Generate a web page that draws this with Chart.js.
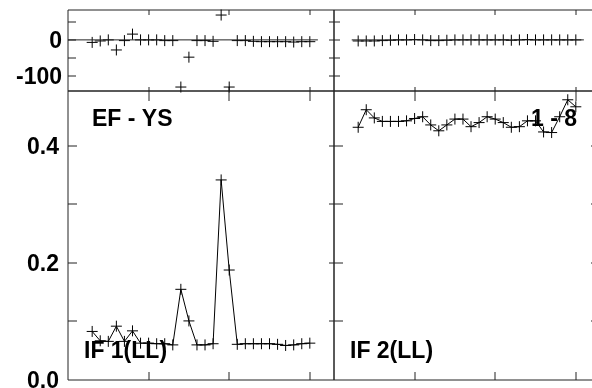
<!DOCTYPE html>
<html>
<head>
<meta charset="utf-8">
<script src="https://cdn.jsdelivr.net/npm/chart.js@4.4.1/dist/chart.umd.min.js"></script>
<style>
  html, body { margin: 0; padding: 0; background: #fff; overflow: hidden; }
  #wrap { position: relative; width: 592px; height: 388px; overflow: hidden; background: #fff; }
  #wrap canvas { position: absolute; }
</style>
</head>
<body>
<div id="wrap">
  <canvas id="resid1"></canvas>
  <canvas id="resid2"></canvas>
  <canvas id="amp1"></canvas>
  <canvas id="amp2"></canvas>
</div>
<script>
// ---------------------------------------------------------------------------
// Data
// ---------------------------------------------------------------------------

var RUNS = [3, 4, 5, 6, 7, 8, 9, 10, 11, 12, 13, 14, 15, 16, 17, 18, 19, 20,
            21, 22, 23, 24, 25, 26, 27, 28, 29, 30];

// residuals, top row
var RESID_IF1 = [-7, -3, 0, -28, -2, 16, 0, 0, 0, -2, -2, -131, -48, -2,
                 -2, -4, 69, -131, -2, -2, -4, -5, -5, -5, -5, -6, -5, -5];
var RESID_IF2 = [-3, -3, -3, -2, -1, 0, 0, 1, 0, -2, -2, -1, 0, 0,
                 0, 0, 0, 0, 0, -1, 0, 1, 0, 0, 0, 0, 0, 0];

// amplitudes, bottom row
var AMP_IF1 = [0.083, 0.067, 0.066, 0.092, 0.066, 0.084, 0.063, 0.063, 0.062, 0.062,
               0.060, 0.155, 0.101, 0.060, 0.060, 0.062, 0.342, 0.188, 0.061, 0.062,
               0.062, 0.062, 0.062, 0.061, 0.059, 0.060, 0.062, 0.063];
var AMP_IF2 = [0.432, 0.462, 0.448, 0.442, 0.442, 0.442, 0.443, 0.447, 0.450, 0.436,
               0.426, 0.436, 0.446, 0.446, 0.433, 0.440, 0.450, 0.446, 0.440, 0.432,
               0.433, 0.443, 0.443, 0.424, 0.423, 0.450, 0.479, 0.467];

// zero reference line extent (x) in the residual panels
var ZERO_SPAN_IF1 = [0, 31];
var ZERO_SPAN_IF2 = [2.2, 31];

// axes
var X_RANGE = [0, 33];
var X_TICKS = [10, 20, 30];
var RESID_RANGE = [-142, 83];
var RESID_TICKS = [50, 0, -50, -100];
var RESID_LABELS = ['0', '-100'];
var RESID_LABEL_AT = [0, -100];
var AMP_RANGE = [0, 0.494];
var AMP_TICKS = [0.1, 0.2, 0.3, 0.4];
var AMP_LABELS = ['0.0', '0.2', '0.4'];
var AMP_LABEL_AT = [0, 0.2, 0.4];

// ---------------------------------------------------------------------------
// Layout (pixel boxes of the four panels)
// ---------------------------------------------------------------------------

var LEFT = 68, MID = 334, RIGHT = 600;
var TOP = 10, SPLIT = 91, BOTTOM = 380;
var FONT = 'bold 23px "Liberation Sans", Arial, Helvetica, sans-serif';

// ---------------------------------------------------------------------------
// Frame plugin: box, inward ticks, tick labels, panel captions
// ---------------------------------------------------------------------------

function seg(ctx, x1, y1, x2, y2) {
  ctx.beginPath();
  ctx.moveTo(x1, y1);
  ctx.lineTo(x2, y2);
  ctx.stroke();
}

var framePlugin = {
  id: 'frame',
  beforeDatasetsDraw: function (chart, args, o) {
    var ctx = chart.ctx, ca = chart.chartArea;
    var sx = chart.scales.x, sy = chart.scales.y;
    var l = Math.round(ca.left), r = Math.round(ca.right);
    var t = Math.round(ca.top), b = Math.round(ca.bottom);
    ctx.save();
    ctx.strokeStyle = '#222';
    ctx.lineWidth = 1;
    seg(ctx, l, t, r, t);
    seg(ctx, l, b, r, b);
    seg(ctx, l, t, l, b);
    seg(ctx, r, t, r, b);

    o.xTicks.forEach(function (v) {
      var px = Math.round(sx.getPixelForValue(v));
      seg(ctx, px, t, px, t + o.tickTop);
      seg(ctx, px, b, px, b - o.tickBottom);
    });
    o.yTicks.forEach(function (v) {
      var py = Math.round(sy.getPixelForValue(v));
      seg(ctx, l, py, l + o.tickLeft, py);
      seg(ctx, r, py, r - o.tickRight, py);
    });

    if (o.yLabels) {
      ctx.font = FONT;
      ctx.fillStyle = '#000';
      ctx.textAlign = 'right';
      ctx.textBaseline = 'alphabetic';
      o.yLabels.forEach(function (txt, i) {
        var py = sy.getPixelForValue(o.yLabelAt[i]);
        ctx.fillText(txt, l - o.labelGap, py + 8.3);
      });
    }
    ctx.restore();
  },
  afterDatasetsDraw: function (chart, args, o) {
    if (!o.captions) return;
    var ctx = chart.ctx, ca = chart.chartArea;
    ctx.save();
    ctx.font = FONT;
    ctx.fillStyle = '#000';
    ctx.textAlign = 'left';
    ctx.textBaseline = 'alphabetic';
    o.captions.forEach(function (c) {
      ctx.fillText(c.text, ca.left + c.dx, ca.top + c.dy);
    });
    ctx.restore();
  }
};

// ---------------------------------------------------------------------------
// Builders
// ---------------------------------------------------------------------------

function points(ys) {
  return RUNS.map(function (x, i) { return { x: x, y: ys[i] }; });
}

function crosses(ys, withLine) {
  return {
    data: points(ys),
    showLine: !!withLine,
    borderColor: '#000',
    backgroundColor: '#000',
    borderWidth: 1,
    tension: 0,
    pointStyle: 'cross',
    pointRadius: 5.5,
    pointBorderWidth: 1,
    pointHoverRadius: 5.5,
    clip: false
  };
}

function zeroLine(span) {
  return {
    data: span.map(function (x) { return { x: x, y: 0 }; }),
    showLine: true,
    borderColor: '#222',
    borderWidth: 1,
    pointRadius: 0,
    clip: false
  };
}

function makePanel(id, box, pad, yRange, datasets, frame) {
  var canvas = document.getElementById(id);
  canvas.width = box.w + pad.l + pad.r;
  canvas.height = box.h + pad.t + pad.b;
  canvas.style.width = canvas.width + 'px';
  canvas.style.height = canvas.height + 'px';
  canvas.style.left = (box.x - pad.l) + 'px';
  canvas.style.top = (box.y - pad.t) + 'px';

  return new Chart(canvas, {
    type: 'scatter',
    data: { datasets: datasets },
    options: {
      responsive: false,
      animation: false,
      devicePixelRatio: 1,
      events: [],
      layout: { padding: { left: pad.l, right: pad.r, top: pad.t, bottom: pad.b } },
      scales: {
        x: { type: 'linear', display: false, min: X_RANGE[0], max: X_RANGE[1] },
        y: { type: 'linear', display: false, min: yRange[0], max: yRange[1] }
      },
      plugins: {
        legend: { display: false },
        tooltip: { enabled: false },
        frame: frame
      }
    },
    plugins: [framePlugin]
  });
}

// ---------------------------------------------------------------------------
// Panels
// ---------------------------------------------------------------------------

makePanel('resid1',
  { x: LEFT, y: TOP, w: MID - LEFT, h: SPLIT - TOP },
  { l: LEFT, r: 12, t: TOP, b: 12 },
  RESID_RANGE,
  [zeroLine(ZERO_SPAN_IF1), crosses(RESID_IF1, false)],
  { xTicks: X_TICKS, yTicks: RESID_TICKS, tickTop: 5, tickBottom: 4,
    tickLeft: 8, tickRight: 5, yLabels: RESID_LABELS, yLabelAt: RESID_LABEL_AT, labelGap: 6 });

makePanel('resid2',
  { x: MID, y: TOP, w: RIGHT - MID, h: SPLIT - TOP },
  { l: 12, r: 12, t: TOP, b: 12 },
  RESID_RANGE,
  [zeroLine(ZERO_SPAN_IF2), crosses(RESID_IF2, false)],
  { xTicks: X_TICKS, yTicks: RESID_TICKS, tickTop: 5, tickBottom: 4,
    tickLeft: 6, tickRight: 5 });

makePanel('amp1',
  { x: LEFT, y: SPLIT, w: MID - LEFT, h: BOTTOM - SPLIT },
  { l: LEFT, r: 12, t: 12, b: 20 },
  AMP_RANGE,
  [crosses(AMP_IF1, true)],
  { xTicks: X_TICKS, yTicks: AMP_TICKS, tickTop: 10, tickBottom: 8,
    tickLeft: 9, tickRight: 5, yLabels: AMP_LABELS, yLabelAt: AMP_LABEL_AT, labelGap: 9,
    captions: [{ text: 'EF - YS', dx: 24, dy: 34.5 }, { text: 'IF 1(LL)', dx: 16, dy: 267 }] });

makePanel('amp2',
  { x: MID, y: SPLIT, w: RIGHT - MID, h: BOTTOM - SPLIT },
  { l: 12, r: 12, t: 12, b: 20 },
  AMP_RANGE,
  [crosses(AMP_IF2, true)],
  { xTicks: X_TICKS, yTicks: AMP_TICKS, tickTop: 10, tickBottom: 8,
    tickLeft: 9, tickRight: 9,
    captions: [{ text: '1 - 8', dx: 197, dy: 34.5 }, { text: 'IF 2(LL)', dx: 16, dy: 267 }] });
</script>
</body>
</html>
